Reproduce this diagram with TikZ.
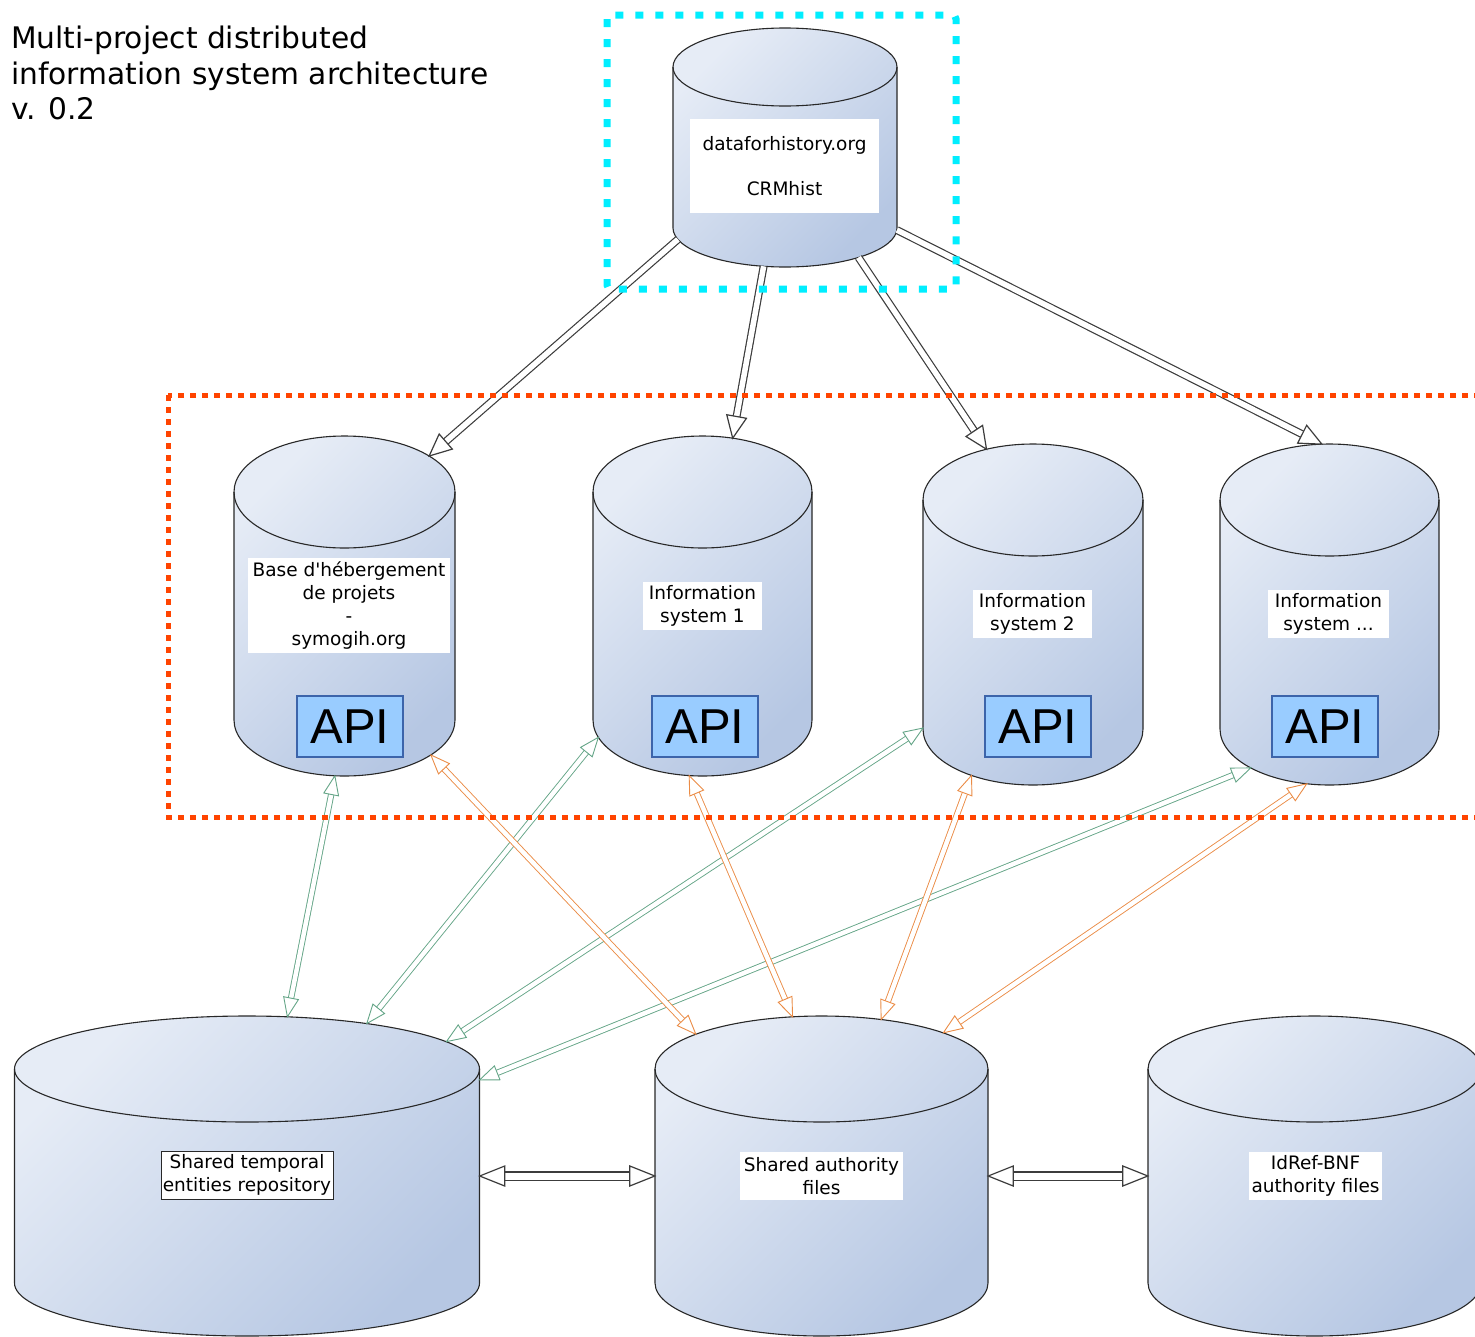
\documentclass[tikz,border=0pt]{standalone}
\usepackage{fontspec}
\setmainfont{DejaVu Sans}
\newfontfamily\labfont{DejaVu Sans}
\newfontfamily\apifont{Liberation Sans}
\usetikzlibrary{calc,fit,decorations.markings}
\definecolor{cylA}{RGB}{230,236,246}
\definecolor{cylB}{RGB}{182,199,227}
\definecolor{cylline}{RGB}{40,40,40}
\definecolor{apifill}{RGB}{153,204,255}
\definecolor{apiline}{RGB}{60,100,170}
\definecolor{garr}{RGB}{100,165,135}
\definecolor{oarr}{RGB}{235,140,70}
\definecolor{darr}{RGB}{60,60,60}
\definecolor{cyanbox}{RGB}{0,238,255}
\definecolor{redbox}{RGB}{255,68,0}
\tikzset{
  cylbody/.style={draw=cylline, line width=1.1pt, top color=cylA, bottom color=cylB, shading angle=45},
  cylrim/.style={draw=cylline, line width=1.1pt},
  lab/.style={fill=white, inner sep=0pt, align=center, font=\labfont\fontsize{18.5}{22.7}\selectfont},
  apibox/.style={draw=apiline, line width=1.5pt, fill=apifill, minimum width=106pt, minimum height=61pt, inner sep=0pt, font=\apifont\fontsize{49}{49}\selectfont},
}
% cylinder: name, cx, y top-ellipse centre, y bottom-ellipse centre, rx, ry
\newcommand\dbcyl[6]{%
  \path[cylbody] (#2-#5,#3) arc[start angle=180,end angle=0,x radius=#5pt,y radius=#6pt]
     -- (#2+#5,#4) arc[start angle=0,end angle=-180,x radius=#5pt,y radius=#6pt] -- cycle;
  \draw[cylrim] (#2-#5,#3) arc[start angle=180,end angle=360,x radius=#5pt,y radius=#6pt];
  \coordinate (#1-t) at (#2,#3);
  \coordinate (#1-b) at (#2,#4);
  \node[inner sep=0pt, fit={(#2-#5,#3) (#2+#5,#4)}] (#1) {};
}
% hollow arrow, one head: colour, lw, gap, head length, head half width, from, to
\newcommand\arrowone[7]{%
  \draw[draw=#1, line width=#2, double=white, double distance=#3, shorten >=0.5*#4] #6 -- #7;
  \path[decoration={markings, mark=at position 1 with {\draw[#1, line width=#2, fill=white, line join=miter] (0pt,0pt) -- (-#4,#5) -- (-#4,-#5) -- cycle;}}, decorate] #6 -- #7;
}
\newcommand\arrowtwo[7]{%
  \draw[draw=#1, line width=#2, double=white, double distance=#3, shorten >=0.5*#4, shorten <=0.5*#4] #6 -- #7;
  \path[decoration={markings,
     mark=at position 0 with {\draw[#1, line width=#2, fill=white, line join=miter] (0pt,0pt) -- (#4,#5) -- (#4,-#5) -- cycle;},
     mark=at position 1 with {\draw[#1, line width=#2, fill=white, line join=miter] (0pt,0pt) -- (-#4,#5) -- (-#4,-#5) -- cycle;}}, decorate] #6 -- #7;
}
\begin{document}
\begin{tikzpicture}[x=1pt,y=-1pt]
\useasboundingbox (0,0) rectangle (1475,1336);
\begin{scope}
\clip (0,0) rectangle (1475,1336);
\fill[white] (0,0) rectangle (1475,1336);

% title
\node[anchor=north west, align=left, inner sep=0pt, font=\labfont\fontsize{29.7}{35.5}\selectfont] (title) at (11,26)
  {Multi-project distributed\\information system architecture\\v. 0.2};

% cylinders
\dbcyl{CRM}{785}{67}{228}{112}{39}
\dbcyl{BASE}{344.5}{492}{720}{110.5}{56}
\dbcyl{IS1}{702.5}{492}{720}{109.5}{56}
\dbcyl{IS2}{1033}{500}{729}{110}{56}
\dbcyl{ISX}{1329.5}{500}{729}{109.5}{56}
\dbcyl{ST}{247}{1069}{1283}{232.5}{53}
\dbcyl{SA}{821.5}{1069}{1283}{166.5}{53}
\dbcyl{IR}{1314.5}{1069}{1283}{166.5}{53}

% labels
\node[lab, minimum width=189pt, minimum height=94pt] (CRM-l) at (784.5,166) {dataforhistory.org\\[22.7pt]CRMhist};
\node[lab, minimum width=202pt, minimum height=95pt] (BASE-l) at (349,605.5) {Base d'hébergement\\de projets\\-\\symogih.org};
\node[lab, minimum width=119pt, minimum height=48pt] (IS1-l) at (702.5,606) {Information\\system 1};
\node[lab, minimum width=119pt, minimum height=48pt] (IS2-l) at (1032.5,614) {Information\\system 2};
\node[lab, minimum width=121pt, minimum height=48pt] (ISX-l) at (1328.5,614) {Information\\system ...};
\node[lab, draw=cylline, line width=0.8pt, minimum width=172pt, minimum height=48pt] (ST-l) at (247,1175) {Shared temporal\\entities repository};
\node[lab, minimum width=163pt, minimum height=48pt] (SA-l) at (821.5,1176) {Shared authority\\files};
\node[lab, minimum width=133pt, minimum height=48pt] (IR-l) at (1315.5,1176) {IdRef-BNF\\authority files};

% API boxes
\node[apibox] (BASE-api) at (350,726.5) {\raisebox{-3pt}{API}};
\node[apibox] (IS1-api) at (705,726.5) {\raisebox{-3pt}{API}};
\node[apibox] (IS2-api) at (1038,726.5) {\raisebox{-3pt}{API}};
\node[apibox] (ISX-api) at (1325,726.5) {\raisebox{-3pt}{API}};

% top arrows (CRM -> systems)
\arrowone{darr}{1.2pt}{5.5pt}{22pt}{10pt}{($(CRM-b)+(-163:112pt and 39pt)$)}{($(BASE-t)+(40:110.5pt and 56pt)$)}
\arrowone{darr}{1.2pt}{5.5pt}{22pt}{10pt}{($(CRM-b)+(-101:112pt and 39pt)$)}{($(IS1-t)+(74:109.5pt and 56pt)$)}
\arrowone{darr}{1.2pt}{5.5pt}{22pt}{10pt}{($(CRM-b)+(-49:112pt and 39pt)$)}{($(IS2-t)+(115:110pt and 56pt)$)}
\arrowone{darr}{1.2pt}{5.5pt}{22pt}{10pt}{($(CRM-b)+(-3:112pt and 39pt)$)}{($(ISX-t)+(94:109.5pt and 56pt)$)}

% green arrows (systems <-> shared temporal entities)
\arrowtwo{garr}{0.9pt}{4.5pt}{19pt}{7.5pt}{($(BASE-b)+(-95:110.5pt and 56pt)$)}{($(ST-t)+(80:232.5pt and 53pt)$)}
\arrowtwo{garr}{0.9pt}{4.5pt}{19pt}{7.5pt}{($(IS1-b)+(-162:109.5pt and 56pt)$)}{($(ST-t)+(59:232.5pt and 53pt)$)}
\arrowtwo{garr}{0.9pt}{4.5pt}{19pt}{7.5pt}{($(IS2-b)+(179:110pt and 56pt)$)}{($(ST-t)+(31:232.5pt and 53pt)$)}
\arrowtwo{garr}{0.9pt}{4.5pt}{19pt}{7.5pt}{($(ISX-b)+(-136:109.5pt and 56pt)$)}{($(ST-t)+(232.5,11)$)}

% orange arrows (systems <-> shared authority files)
\arrowtwo{oarr}{0.9pt}{4.5pt}{19pt}{7.5pt}{($(BASE-b)+(-38.6:110.5pt and 56pt)$)}{($(SA-t)+(139:166.5pt and 53pt)$)}
\arrowtwo{oarr}{0.9pt}{4.5pt}{19pt}{7.5pt}{($(IS1-b)+(-97:109.5pt and 56pt)$)}{($(SA-t)+(100:166.5pt and 53pt)$)}
\arrowtwo{oarr}{0.9pt}{4.5pt}{19pt}{7.5pt}{($(IS2-b)+(-124:110pt and 56pt)$)}{($(SA-t)+(69:166.5pt and 53pt)$)}
\arrowtwo{oarr}{0.9pt}{4.5pt}{19pt}{7.5pt}{($(ISX-b)+(-102:109.5pt and 56pt)$)}{($(SA-t)+(43:166.5pt and 53pt)$)}

% horizontal arrows
\arrowtwo{darr}{1.2pt}{7pt}{25pt}{10pt}{(ST.east)}{(SA.west)}
\arrowtwo{darr}{1.2pt}{7pt}{25pt}{10pt}{(SA.east)}{(IR.west)}

% group frames
\draw[cyanbox, line width=7pt, dash pattern=on 8pt off 12pt, rounded corners=4pt] (607,15) rectangle (956,289);
\draw[redbox, line width=5pt, dash pattern=on 6pt off 6pt] (168,395) rectangle (1500,817);
\end{scope}
\end{tikzpicture}
\end{document}
